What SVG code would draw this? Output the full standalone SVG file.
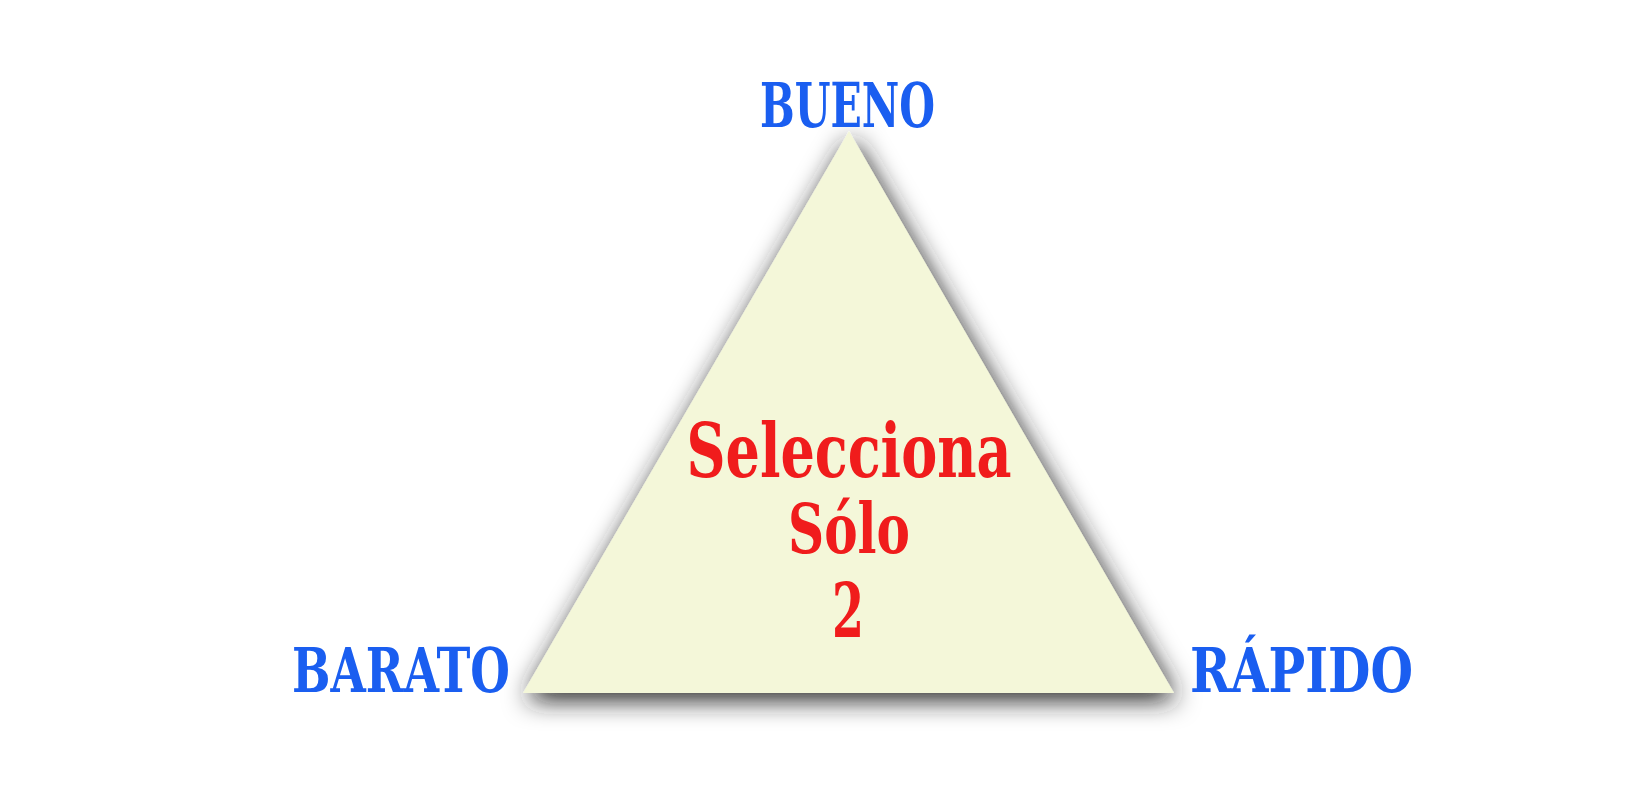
<svg xmlns="http://www.w3.org/2000/svg" width="1633" height="800" viewBox="0 0 1633 800">
<defs>
<filter id="sh" x="-20%" y="-20%" width="140%" height="140%">
<feGaussianBlur in="SourceAlpha" stdDeviation="13"/>
<feOffset dx="3" dy="7" result="b"/>
<feFlood flood-color="#222222" flood-opacity="1"/>
<feComposite in2="b" operator="in"/>
<feMerge><feMergeNode/><feMergeNode in="SourceGraphic"/></feMerge>
</filter>
</defs>
<style>
.lbl{font-family:"DejaVu Serif","Liberation Serif",serif;font-weight:bold;fill:#1a5ef0;font-size:61px}
.mid{font-family:"DejaVu Serif","Liberation Serif",serif;font-weight:bold;fill:#f01c1c;text-anchor:middle}
</style>
<rect width="1633" height="800" fill="#ffffff"/>
<g id="triangle">
<polygon points="849,131 1174,693 523,693" fill="#f4f7d9" filter="url(#sh)"/>
<text class="mid" x="849" y="477" font-size="74" textLength="325" lengthAdjust="spacingAndGlyphs">Selecciona</text>
<text class="mid" x="849" y="553" font-size="70" textLength="122" lengthAdjust="spacingAndGlyphs">Sólo</text>
<text class="mid" x="848" y="637" font-size="74" textLength="32" lengthAdjust="spacingAndGlyphs">2</text>
</g>
<g id="bueno"><text class="lbl" x="760" y="127" textLength="175" lengthAdjust="spacingAndGlyphs">BUENO</text></g>
<g id="barato"><text class="lbl" x="292" y="692" textLength="218" lengthAdjust="spacingAndGlyphs">BARATO</text></g>
<g id="rapido"><text class="lbl" x="1190" y="692" textLength="223" lengthAdjust="spacingAndGlyphs">RÁPIDO</text></g>
<g id="connectors"/>
</svg>
